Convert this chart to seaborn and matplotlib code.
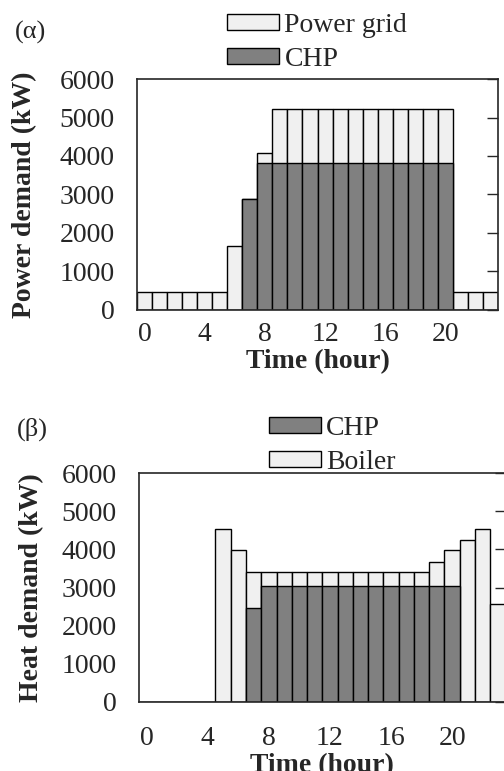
import matplotlib
matplotlib.use("Agg")
import matplotlib.pyplot as plt
from matplotlib.patches import Patch
import seaborn as sns
import pandas as pd

# hourly values (kW)
hours = list(range(24))

power_chp = [0, 0, 0, 0, 0, 0, 0, 2870, 3810, 3810, 3810, 3810, 3810, 3810,
             3810, 3810, 3810, 3810, 3810, 3810, 3810, 0, 0, 0]
power_grid = [475, 475, 475, 475, 475, 475, 1670, 0, 270, 1410, 1410, 1410,
              1410, 1410, 1410, 1410, 1410, 1410, 1410, 1410, 1410, 475, 475, 475]

heat_chp = [0, 0, 0, 0, 0, 0, 0, 2460, 3030, 3030, 3030, 3030, 3030, 3030,
            3030, 3030, 3030, 3030, 3030, 3030, 3030, 0, 0, 0]
heat_boiler = [0, 0, 0, 0, 0, 4540, 3970, 940, 370, 370, 370, 370, 370, 370,
               370, 370, 370, 370, 370, 650, 940, 4240, 4540, 2570]

xtick_hours = [0, 4, 8, 12, 16, 20]

LIGHT = "#f0f0f0"
DARK = "#808080"

sns.set_style("ticks")
plt.rcParams['font.family'] = ['Liberation Serif', 'DejaVu Serif']
plt.rcParams['axes.linewidth'] = 1.2

power = pd.DataFrame({"hour": hours, "chp": power_chp, "grid": power_grid})
power["total"] = power["chp"] + power["grid"]
heat = pd.DataFrame({"hour": hours, "chp": heat_chp, "boiler": heat_boiler})
heat["total"] = heat["chp"] + heat["boiler"]

fig = plt.figure(figsize=(5.04, 7.71), dpi=100)
ax1 = fig.add_axes([0.272, 0.598, 0.716, 0.2995])
ax2 = fig.add_axes([0.276, 0.0895, 0.727, 0.297])


def stacked(ax, df):
    # light total bars first, dark CHP part drawn over them
    sns.barplot(data=df, x="hour", y="total", color=LIGHT, saturation=1,
                width=1, edgecolor="black", linewidth=1, ax=ax)
    sns.barplot(data=df, x="hour", y="chp", color=DARK, saturation=1,
                width=1, edgecolor="black", linewidth=1, ax=ax)
    ax.set_xlim(-0.5, 23.5)
    ax.set_ylim(0, 6000)
    ax.set_yticks(range(0, 7000, 1000))
    ax.set_xticks(xtick_hours)
    ax.set_xticklabels([str(h) for h in xtick_hours])
    ax.tick_params(axis="y", left=False, right=True, direction="in",
                   length=8, width=1, labelleft=True, labelsize=20, pad=16)
    ax.tick_params(axis="x", bottom=False, labelsize=20)
    for s in ax.spines.values():
        s.set_visible(True)


legend_kw = dict(loc="lower left", frameon=False, fontsize=20,
                 handlelength=1.85, handleheight=0.5, handletextpad=0.2,
                 labelspacing=0.32, borderaxespad=0.0, borderpad=0.2)

stacked(ax1, power)
ax1.tick_params(axis="x", pad=5)
ax1.set_xlabel("Time (hour)", fontsize=20, fontweight="bold", labelpad=2)
ax1.set_ylabel("Power demand (kW)", fontsize=20, fontweight="bold", labelpad=16)
ax1.legend(handles=[Patch(facecolor=LIGHT, edgecolor="black", label="Power grid"),
                    Patch(facecolor=DARK, edgecolor="black", label="CHP")],
           bbox_to_anchor=(0.235, 1.008), **legend_kw)
fig.text(0.03, 0.95, "(α)", fontsize=19)

stacked(ax2, heat)
ax2.tick_params(axis="x", pad=14)
ax2.set_xlabel("Time (hour)", fontsize=20, fontweight="bold", labelpad=1)
ax2.set_ylabel("Heat demand (kW)", fontsize=20, fontweight="bold", labelpad=13)
ax2.legend(handles=[Patch(facecolor=DARK, edgecolor="black", label="CHP"),
                    Patch(facecolor=LIGHT, edgecolor="black", label="Boiler")],
           bbox_to_anchor=(0.34, 0.968), **legend_kw)
fig.text(0.033, 0.435, "(β)", fontsize=19)

fig.savefig("out.png", dpi=100)
